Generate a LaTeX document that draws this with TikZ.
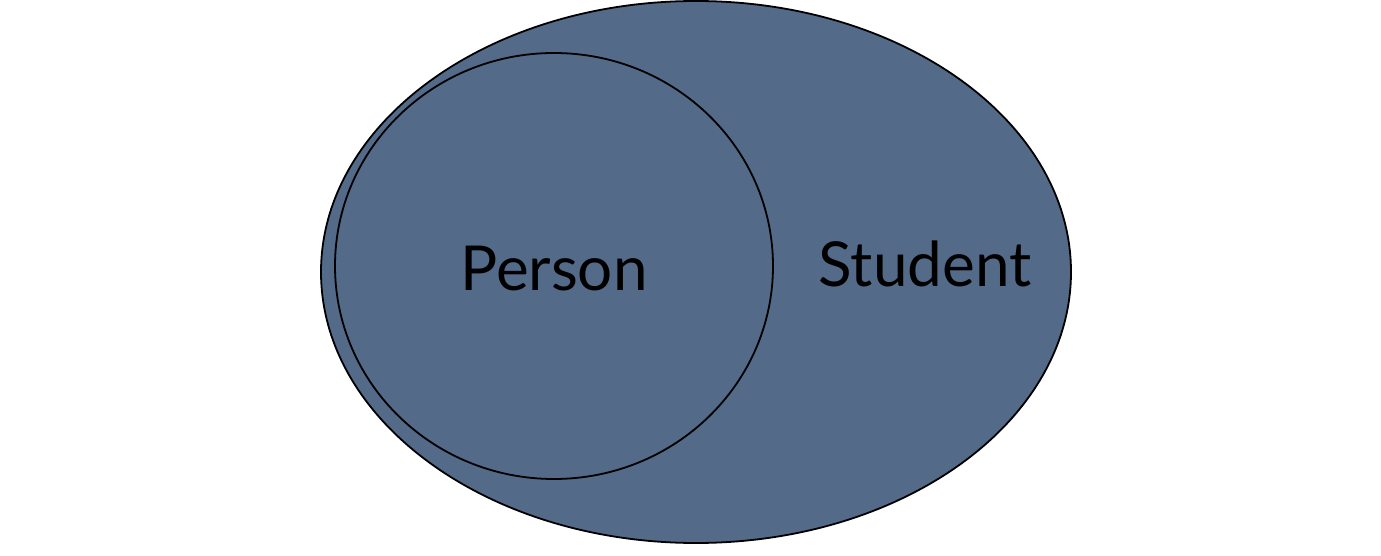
\documentclass[tikz,border=0pt]{standalone}
\usepackage{fontspec}
\setmainfont{Lato}
\definecolor{slate}{HTML}{536A89}
\tikzset{
  setshape/.style={draw=black, line width=1.8pt, fill=slate},
  setlabel/.style={font=\fontsize{62}{74}\selectfont, text=black, inner sep=0pt}
}
\begin{document}
\begin{tikzpicture}[x=1pt,y=1pt]
\useasboundingbox (0,0) rectangle (1381,555);
\path[setshape] (696,283) ellipse [x radius=375, y radius=271];
\path[setshape] (554,289) ellipse [x radius=219, y radius=213];
\node[setlabel] (person) at (554,286) {Person};
\node[setlabel] (student) at (925,291) {Student};
\end{tikzpicture}
\end{document}
